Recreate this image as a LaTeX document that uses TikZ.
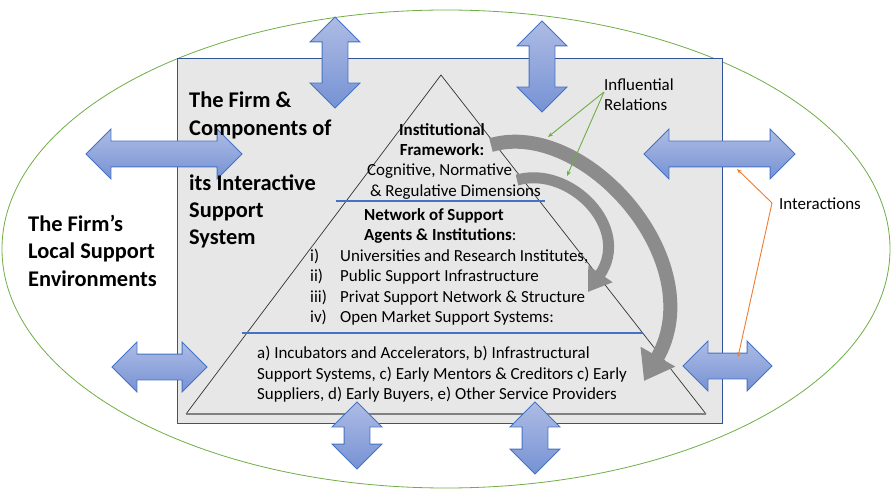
\documentclass[tikz,border=0pt]{standalone}
\usepackage{fontspec}
\setmainfont{Carlito}
\usetikzlibrary{shapes.arrows, arrows.meta}

\definecolor{envgreen}{RGB}{112,173,71}
\definecolor{boxblue}{RGB}{47,85,151}
\definecolor{arrowblue}{RGB}{68,114,196}
\definecolor{arrowtop}{RGB}{174,188,228}
\definecolor{arrowbot}{RGB}{118,146,212}
\definecolor{relorange}{RGB}{237,125,49}
\definecolor{boxgray}{RGB}{231,231,231}
\definecolor{flowgray}{RGB}{140,140,140}

\begin{document}
\begin{tikzpicture}[
  x=1bp, y=-1bp,
  bigtxt/.style={font=\fontsize{22.5}{27.5}\selectfont\bfseries, align=left, inner sep=0pt},
  smalltxt/.style={font=\fontsize{17}{20.5}\selectfont, inner sep=0pt},
  dblarrow/.style={double arrow, draw=arrowblue, line width=0.8bp,
                   top color=arrowtop, bottom color=arrowbot,
                   inner sep=12.5bp, double arrow head extend=12bp},
  vdblarrow/.style={dblarrow, shape border rotate=90},
  flowarrow/.style={draw=flowgray, line width=14bp, -{Triangle[length=28bp, width=38bp]}},
  relgreen/.style={draw=envgreen, line width=0.9bp, -{Stealth[length=5bp, width=4bp]}},
  relorng/.style={draw=relorange, line width=0.9bp, -{Stealth[length=5bp, width=4bp]}}
]
\useasboundingbox (0,0) rectangle (893,491);

%--------------------------------------------------------------
% Environment, support system box and pyramid
%--------------------------------------------------------------
\draw[envgreen, line width=0.8bp] (446,249) ellipse [x radius=444, y radius=239];
\draw[boxblue, fill=boxgray, line width=0.9bp] (177,58) rectangle (722,423);

\draw[black!80, line width=0.7bp] (186,414) -- (441,75) -- (706,414);
\draw[black!50, line width=1.6bp] (186,414) -- (706,414);
\draw[arrowblue, line width=1.3bp] (336,201) -- (545,201);
\draw[arrowblue, line width=1.3bp] (242,333) -- (643,333);

%--------------------------------------------------------------
% Interaction arrows
%--------------------------------------------------------------
\node[dblarrow, minimum height=156bp] (hlt) at (164,154) {};
\node[dblarrow, minimum height=151bp] (hrt) at (719.5,154) {};
\node[dblarrow, minimum height=95bp] (hlb) at (159.5,367) {};
\node[dblarrow, minimum height=89bp] (hrb) at (727.5,366) {};
\node[vdblarrow, minimum height=91bp] (vlt) at (335,62.5) {};
\node[vdblarrow, minimum height=91bp] (vrt) at (542,66.5) {};
\node[vdblarrow, minimum height=67bp] (vlb) at (357,435.5) {};
\node[vdblarrow, minimum height=72bp] (vrb) at (535,438) {};

%--------------------------------------------------------------
% Texts
%--------------------------------------------------------------
\node[bigtxt, anchor=north west] (firm) at (189,92)
  {The Firm \&\\Components of\\ \mbox{}\\its Interactive\\Support\\System};
\node[bigtxt, anchor=north west] (local) at (28,215)
  {The Firm’s\\Local Support\\Environments};

\node[smalltxt, font=\fontsize{17}{20.5}\selectfont\bfseries, align=center, anchor=north] (inst) at (442,123)
  {Institutional\\Framework:};
\node[smalltxt, align=left, anchor=north west] (dims) at (367,164)
  {Cognitive, Normative\\\,\& Regulative Dimensions};
\node[smalltxt, align=left, anchor=north west] (netw) at (364,208)
  {\textbf{Network of Support}\\\textbf{Agents \& Institutions}:};
\node[smalltxt, anchor=north west] (agents) at (310,247)
  {\begin{tabular}{@{}p{30bp}@{}l@{}}
    i)   & Universities and Research Institutes,\\
    ii)  & Public Support Infrastructure\\
    iii) & Privat Support Network \& Structure\\
    iv)  & Open Market Support Systems:
  \end{tabular}};
\node[smalltxt, align=left, anchor=north west] (market) at (257,346)
  {a) Incubators and Accelerators, b) Infrastructural\\
   Support Systems, c) Early Mentors \& Creditors c) Early\\
   Suppliers, d) Early Buyers, e) Other Service Providers};

\node[smalltxt, font=\fontsize{17}{19.5}\selectfont, align=left, anchor=north west] (infl) at (604,79)
  {Influential\\Relations};
\node[smalltxt, anchor=west] (inter) at (779,204) {Interactions};

%--------------------------------------------------------------
% Influence flows from the institutional framework
%--------------------------------------------------------------
\coordinate (bigtail) at (491,145);
\coordinate (bighead) at (644,381);
\coordinate (smalltail) at (517,180);
\coordinate (smallhead) at (588,292);
\draw[flowarrow] (bigtail) .. controls (585,118) and (712,262) .. (bighead);
\draw[flowarrow, line width=11bp, -{Triangle[length=22bp, width=28bp]}]
  (smalltail) .. controls (570,165) and (632,228) .. (smallhead);

%--------------------------------------------------------------
% Callouts
%--------------------------------------------------------------
\coordinate (inflfoot) at (604,92);
\coordinate (gbig) at (548,137);
\coordinate (gsmall) at (567,176);
\draw[relgreen] (inflfoot) -- (gbig);
\draw[relgreen] (inflfoot) -- (gsmall);

\coordinate (interfoot) at (772,203);
\coordinate (otop) at (737,169);
\coordinate (obot) at (738,357);
\draw[relorng] (interfoot) -- (otop);
\draw[relorng] (interfoot) -- (obot);
\end{tikzpicture}
\end{document}
